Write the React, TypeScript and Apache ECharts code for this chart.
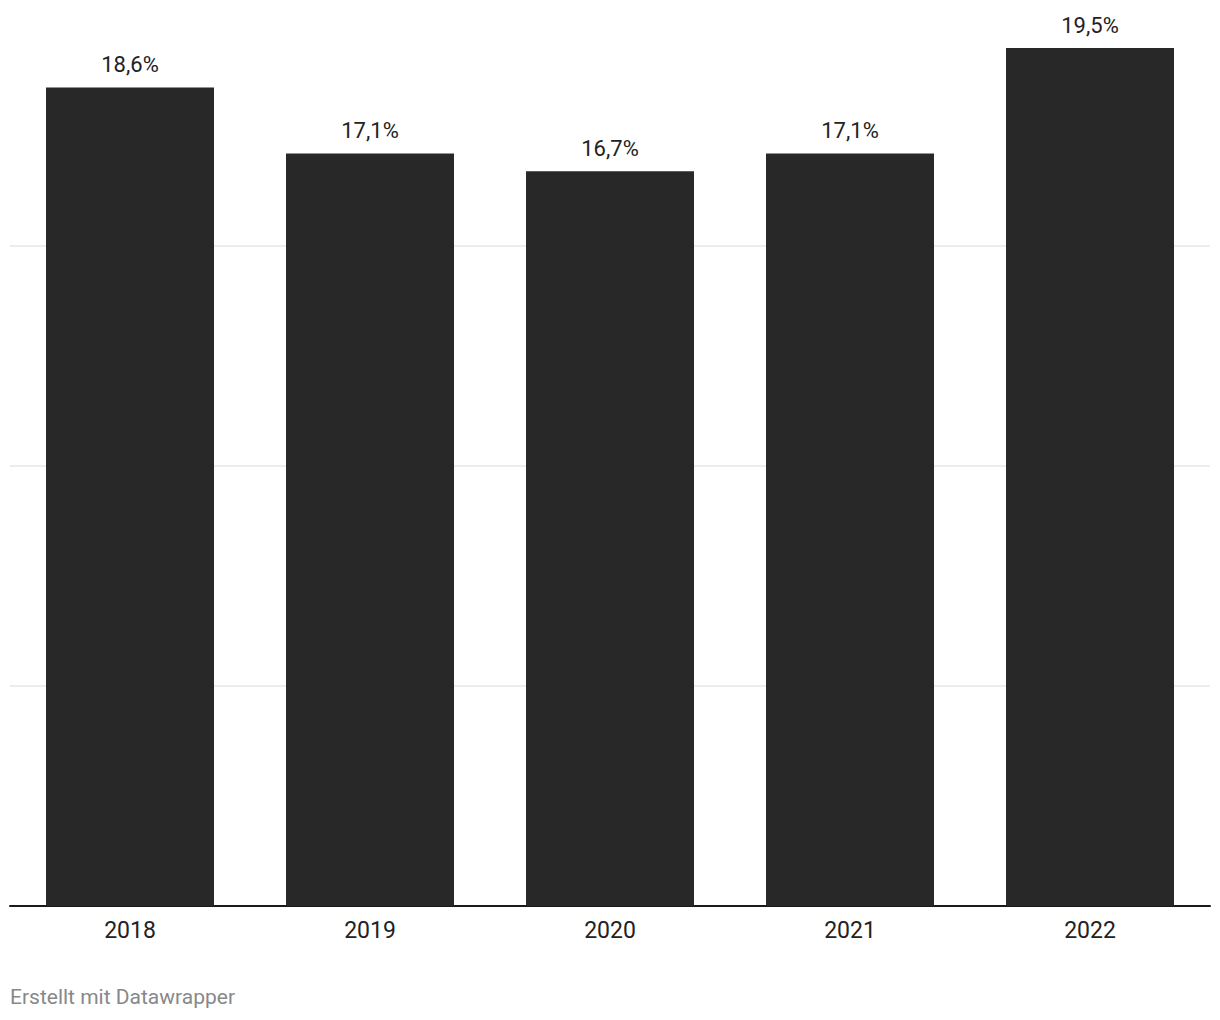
import React, { useEffect, useRef } from "react";
import * as echarts from "echarts";

const categories = ["2018", "2019", "2020", "2021", "2022"];
const values = [18.6, 17.1, 16.7, 17.1, 19.5];
const footer = "Erstellt mit Datawrapper";

export default function App() {
  const ref = useRef<HTMLDivElement>(null);
  useEffect(() => {
    if (!ref.current) return;
    const chart = echarts.init(ref.current, null, { renderer: "svg" });
    chart.setOption({
      animation: false,
      backgroundColor: "#ffffff",
      textStyle: { fontFamily: "Roboto" },
      grid: { left: 10, right: 10, top: 26, bottom: 114, containLabel: false },
      xAxis: {
        type: "category",
        data: categories,
        axisLine: { show: true, lineStyle: { color: "#1a1a1a", width: 2 } },
        axisTick: { show: false },
        axisLabel: { color: "#222222", fontSize: 23, margin: 13, fontFamily: "Roboto" },
      },
      yAxis: {
        type: "value",
        min: 0,
        max: 20,
        interval: 5,
        axisLabel: { show: false },
        axisLine: { show: false },
        axisTick: { show: false },
        splitLine: { show: true, showMinLine: false, showMaxLine: false, lineStyle: { color: "#e6e6e6", width: 1.5 } },
      },
      series: [
        {
          type: "bar",
          data: values,
          barWidth: "70%",
          itemStyle: { color: "#282828" },
          label: {
            show: true,
            position: "top",
            distance: 12,
            color: "#222222",
            fontSize: 22,
            fontFamily: "Roboto",
            formatter: (p: any) => String(p.value).replace(".", ",") + "%",
          },
        },
      ],
      graphic: [
        {
          type: "text",
          left: 10,
          top: 986,
          style: { text: footer, fill: "#888888", fontSize: 21, fontFamily: "Roboto" },
        },
      ],
    });
    return () => chart.dispose();
  }, []);
  return <div ref={ref} style={{ position: "absolute", left: 0, top: 0, width: 1220, height: 1020 }} />;
}
